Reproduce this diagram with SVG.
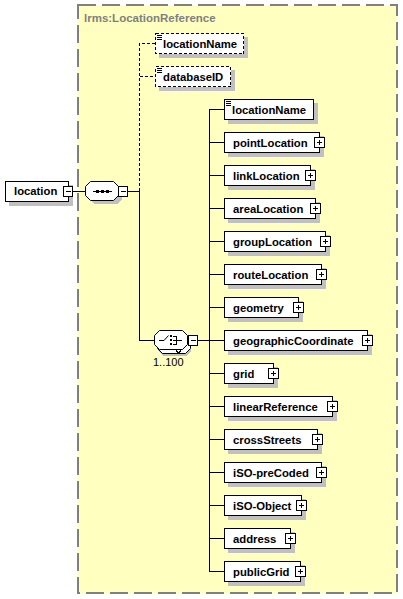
<svg xmlns="http://www.w3.org/2000/svg" width="403" height="599" viewBox="0 0 403 599">
<defs>
<style>
.bg{fill:#ffffc0;stroke:#808080;stroke-width:2;stroke-dasharray:18 6}
.el{fill:#fff;stroke:#000;stroke-width:1;shape-rendering:crispEdges}
.opt{stroke-dasharray:3 2}
.sh{fill:#c0c0c0;stroke:none;shape-rendering:crispEdges}
.cmp{fill:#fff;stroke:#000;stroke-width:1}
.ln{fill:none;stroke:#000;stroke-width:1;shape-rendering:crispEdges}
.dl{fill:none;stroke:#000;stroke-width:1;stroke-dasharray:3 2;shape-rendering:crispEdges}
.t{font-family:"Liberation Sans",Arial,sans-serif;font-weight:bold;font-size:11.3px;fill:#000}
.n{font-family:"Liberation Sans",Arial,sans-serif;font-size:11px;fill:#000}
.title{font-family:"Liberation Sans",Arial,sans-serif;font-weight:bold;font-size:11.5px;fill:#808080}
.dot{fill:#000;shape-rendering:crispEdges}
</style>
</defs>

<g id="complexType">
<rect class="bg" x="78" y="5" width="319" height="588"/>
<text class="title" x="84" y="22">lrms:LocationReference</text>
</g>

<g id="connectors">
<path class="ln" d="M72,191.5H85"/>
<path class="ln" d="M127,191.5H139.5"/>
<path class="dl" d="M139.5,191V43.5H155M139.5,76.5H155"/>
<path class="ln" d="M139.5,191V340.5H154"/>
<path class="ln" d="M198,340.5H209.5"/>
<path class="ln" d="M209.5,109V571.5"/>
<path class="ln" d="M209.5,109.5H224M209.5,142.5H224M209.5,175.5H224M209.5,208.5H224M209.5,241.5H224M209.5,274.5H224M209.5,307.5H224M209.5,340.5H224M209.5,373.5H224M209.5,406.5H224M209.5,439.5H224M209.5,472.5H224M209.5,505.5H224M209.5,538.5H224M209.5,571.5H224"/>
</g>

<g id="location">
<rect class="sh" x="9" y="185" width="64" height="21"/>
<rect class="el" x="5.5" y="181.5" width="63" height="20"/>
<text class="t" x="14" y="195">location</text>
<rect class="el" x="63.5" y="186.5" width="9" height="10"/>
<path class="ln" d="M65.5,191.5H71"/>
</g>

<g id="sequence">
<path class="sh" d="M94,185H117L122,190V199L117,204H94L89,199V190Z"/>
<path class="cmp" d="M90.5,181.5H113.5L118.5,186.5V195.5L113.5,200.5H90.5L85.5,195.5V186.5Z"/>
<path class="ln" d="M93,191.5H112"/>
<rect class="dot" x="96" y="190" width="3" height="3"/>
<rect class="dot" x="101" y="190" width="3" height="3"/>
<rect class="dot" x="106" y="190" width="3" height="3"/>
<rect class="el" x="118.5" y="186.5" width="9" height="10"/>
<path class="ln" d="M120.5,191.5H126"/>
</g>

<g id="opt_locationName">
<rect class="sh" x="159" y="37" width="89" height="21"/>
<rect class="el opt" x="155.5" y="33.5" width="88" height="20"/>
<path class="ln" d="M157,35.5H162M157,37.5H162M157,39.5H162"/>
<text class="t" x="163" y="48">locationName</text>
</g>

<g id="opt_databaseID">
<rect class="sh" x="159" y="70" width="76" height="21"/>
<rect class="el opt" x="155.5" y="66.5" width="75" height="20"/>
<path class="ln" d="M157,68.5H162M157,70.5H162M157,72.5H162"/>
<text class="t" x="163" y="81">databaseID</text>
</g>

<g id="choice">
<path class="sh" d="M163,337H186L191,342V351L186,356H163L158,351V342Z"/>
<path class="cmp" d="M162.5,334.5H185.5L190.5,339.5V348.5L185.5,353.5H162.5L157.5,348.5V339.5Z"/>
<path class="cmp" d="M159.5,330.5H182.5L187.5,335.5V344.5L182.5,349.5H159.5L154.5,344.5V335.5Z"/>
<path class="ln" d="M176,350.5L178.5,353L181,350.5"/>
<path class="ln" d="M159,340.5H164"/>
<path fill="none" stroke="#000" d="M164,340.5L168.5,335.5"/>
<rect class="dot" x="170" y="335" width="2" height="2"/>
<rect class="dot" x="170" y="339" width="2" height="2"/>
<rect class="dot" x="170" y="343" width="2" height="2"/>
<path class="ln" d="M173,336.5H176.5V344.5H173M173,340.5H182"/>
<rect class="el" x="188.5" y="335.5" width="9" height="10"/>
<path class="ln" d="M190.5,340.5H196"/>
<text class="n" x="153" y="366">1..100</text>
</g>

<g id="locationName">
<rect class="sh" x="228" y="103" width="90" height="21"/>
<rect class="el" x="224.5" y="99.5" width="89" height="20"/>
<path class="ln" d="M226,101.5H231M226,103.5H231M226,105.5H231"/>
<text class="t" x="232" y="114">locationName</text>
</g>

<g id="pointLocation">
<rect class="sh" x="228" y="136" width="96" height="21"/>
<rect class="el" x="224.5" y="132.5" width="95" height="20"/>
<text class="t" x="233" y="147">pointLocation</text>
<rect class="el" x="314.5" y="137.5" width="10" height="10"/>
<path class="ln" d="M317,142.5H322M319.5,140V145"/>
</g>

<g id="linkLocation">
<rect class="sh" x="228" y="169" width="87" height="21"/>
<rect class="el" x="224.5" y="165.5" width="86" height="20"/>
<text class="t" x="233" y="180">linkLocation</text>
<rect class="el" x="305.5" y="170.5" width="10" height="10"/>
<path class="ln" d="M308,175.5H313M310.5,173V178"/>
</g>

<g id="areaLocation">
<rect class="sh" x="228" y="202" width="92" height="21"/>
<rect class="el" x="224.5" y="198.5" width="91" height="20"/>
<text class="t" x="233" y="213">areaLocation</text>
<rect class="el" x="310.5" y="203.5" width="10" height="10"/>
<path class="ln" d="M313,208.5H318M315.5,206V211"/>
</g>

<g id="groupLocation">
<rect class="sh" x="228" y="235" width="102" height="21"/>
<rect class="el" x="224.5" y="231.5" width="101" height="20"/>
<text class="t" x="233" y="246">groupLocation</text>
<rect class="el" x="320.5" y="236.5" width="10" height="10"/>
<path class="ln" d="M323,241.5H328M325.5,239V244"/>
</g>

<g id="routeLocation">
<rect class="sh" x="228" y="268" width="98" height="21"/>
<rect class="el" x="224.5" y="264.5" width="97" height="20"/>
<text class="t" x="233" y="279">routeLocation</text>
<rect class="el" x="316.5" y="269.5" width="10" height="10"/>
<path class="ln" d="M319,274.5H324M321.5,272V277"/>
</g>

<g id="geometry">
<rect class="sh" x="228" y="301" width="75" height="21"/>
<rect class="el" x="224.5" y="297.5" width="74" height="20"/>
<text class="t" x="233" y="312">geometry</text>
<rect class="el" x="293.5" y="302.5" width="10" height="10"/>
<path class="ln" d="M296,307.5H301M298.5,305V310"/>
</g>

<g id="geographicCoordinate">
<rect class="sh" x="228" y="334" width="144" height="21"/>
<rect class="el" x="224.5" y="330.5" width="143" height="20"/>
<text class="t" x="233" y="345">geographicCoordinate</text>
<rect class="el" x="362.5" y="335.5" width="10" height="10"/>
<path class="ln" d="M365,340.5H370M367.5,338V343"/>
</g>

<g id="grid">
<rect class="sh" x="228" y="367" width="50" height="21"/>
<rect class="el" x="224.5" y="363.5" width="49" height="20"/>
<text class="t" x="233" y="378">grid</text>
<rect class="el" x="268.5" y="368.5" width="10" height="10"/>
<path class="ln" d="M271,373.5H276M273.5,371V376"/>
</g>

<g id="linearReference">
<rect class="sh" x="228" y="400" width="109" height="21"/>
<rect class="el" x="224.5" y="396.5" width="108" height="20"/>
<text class="t" x="233" y="411">linearReference</text>
<rect class="el" x="327.5" y="401.5" width="10" height="10"/>
<path class="ln" d="M330,406.5H335M332.5,404V409"/>
</g>

<g id="crossStreets">
<rect class="sh" x="228" y="433" width="94" height="21"/>
<rect class="el" x="224.5" y="429.5" width="93" height="20"/>
<text class="t" x="233" y="444">crossStreets</text>
<rect class="el" x="312.5" y="434.5" width="10" height="10"/>
<path class="ln" d="M315,439.5H320M317.5,437V442"/>
</g>

<g id="iSO-preCoded">
<rect class="sh" x="228" y="466" width="98" height="21"/>
<rect class="el" x="224.5" y="462.5" width="97" height="20"/>
<text class="t" x="233" y="477">iSO-preCoded</text>
<rect class="el" x="316.5" y="467.5" width="10" height="10"/>
<path class="ln" d="M319,472.5H324M321.5,470V475"/>
</g>

<g id="iSO-Object">
<rect class="sh" x="228" y="499" width="78" height="21"/>
<rect class="el" x="224.5" y="495.5" width="77" height="20"/>
<text class="t" x="233" y="510">iSO-Object</text>
<rect class="el" x="296.5" y="500.5" width="10" height="10"/>
<path class="ln" d="M299,505.5H304M301.5,503V508"/>
</g>

<g id="address">
<rect class="sh" x="228" y="532" width="67" height="21"/>
<rect class="el" x="224.5" y="528.5" width="66" height="20"/>
<text class="t" x="233" y="543">address</text>
<rect class="el" x="285.5" y="533.5" width="10" height="10"/>
<path class="ln" d="M288,538.5H293M290.5,536V541"/>
</g>

<g id="publicGrid">
<rect class="sh" x="228" y="565" width="77" height="21"/>
<rect class="el" x="224.5" y="561.5" width="76" height="20"/>
<text class="t" x="233" y="576">publicGrid</text>
<rect class="el" x="295.5" y="566.5" width="10" height="10"/>
<path class="ln" d="M298,571.5H303M300.5,569V574"/>
</g>
</svg>
